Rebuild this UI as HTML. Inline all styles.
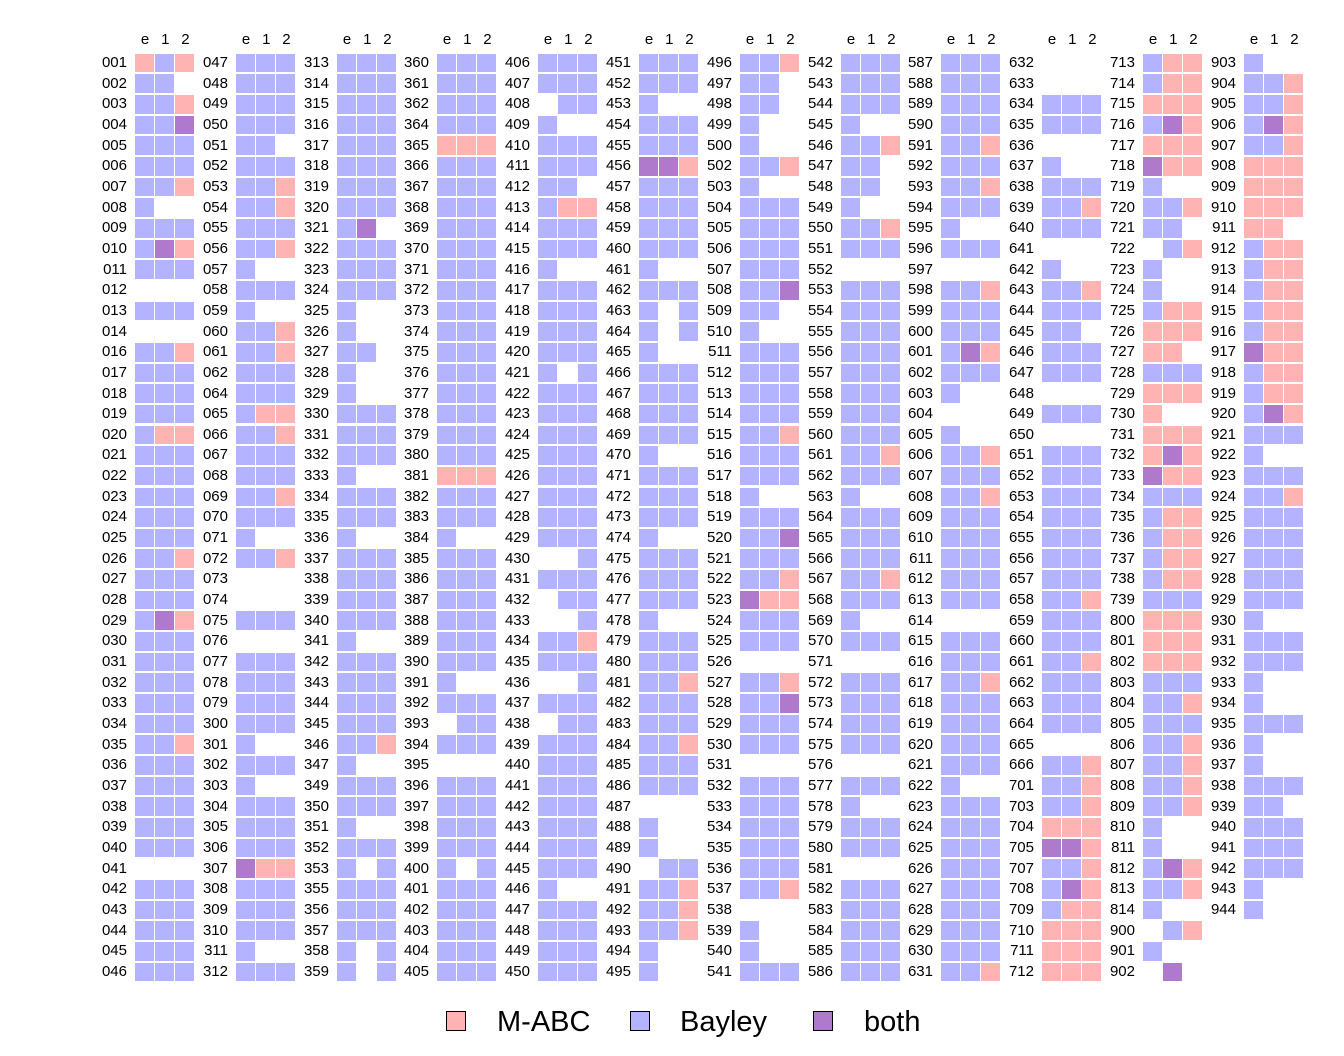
<!DOCTYPE html>
<html><head><meta charset="utf-8"><style>
body{margin:0;width:1344px;height:1056px;background:#fff;font-family:"Liberation Sans",sans-serif;position:relative;overflow:hidden}
.c{position:absolute;top:52.7px}
.c div{height:20.66px;display:flex;align-items:center;position:relative}
.c s{text-decoration:none;width:38px;text-align:right;font-size:15px;margin-right:8px;color:#000;line-height:20px}
.c b{display:block;width:18.5px;height:18.6px;margin-right:1.7px}
.b{background:#b3b3ff}.p{background:#ffb3b3}.m{background:#b07acc}.w{background:transparent}
.h{position:absolute;top:31px;font-size:15px;display:flex}
.h span{width:20.2px;text-align:center}
.lg{position:absolute;top:1011px;width:20px;height:20px;border:1.5px solid #000;box-sizing:border-box}
.lt{position:absolute;top:1006px;font-size:29px}
</style></head><body>
<div class="h" style="left:135px"><span>e</span><span>1</span><span>2</span></div>
<div class="h" style="left:236px"><span>e</span><span>1</span><span>2</span></div>
<div class="h" style="left:337px"><span>e</span><span>1</span><span>2</span></div>
<div class="h" style="left:437px"><span>e</span><span>1</span><span>2</span></div>
<div class="h" style="left:538px"><span>e</span><span>1</span><span>2</span></div>
<div class="h" style="left:639px"><span>e</span><span>1</span><span>2</span></div>
<div class="h" style="left:740px"><span>e</span><span>1</span><span>2</span></div>
<div class="h" style="left:841px"><span>e</span><span>1</span><span>2</span></div>
<div class="h" style="left:941px"><span>e</span><span>1</span><span>2</span></div>
<div class="h" style="left:1042px"><span>e</span><span>1</span><span>2</span></div>
<div class="h" style="left:1143px"><span>e</span><span>1</span><span>2</span></div>
<div class="h" style="left:1244px"><span>e</span><span>1</span><span>2</span></div>

<div class="c" style="left:89px">
<div><s>001</s><b class=p></b><b class=b></b><b class=p></b></div>
<div><s>002</s><b class=b></b><b class=b></b><b class=w></b></div>
<div><s>003</s><b class=b></b><b class=b></b><b class=p></b></div>
<div><s>004</s><b class=b></b><b class=b></b><b class=m></b></div>
<div><s>005</s><b class=b></b><b class=b></b><b class=b></b></div>
<div><s>006</s><b class=b></b><b class=b></b><b class=b></b></div>
<div><s>007</s><b class=b></b><b class=b></b><b class=p></b></div>
<div><s>008</s><b class=b></b><b class=w></b><b class=w></b></div>
<div><s>009</s><b class=b></b><b class=b></b><b class=b></b></div>
<div><s>010</s><b class=b></b><b class=m></b><b class=p></b></div>
<div><s>011</s><b class=b></b><b class=b></b><b class=b></b></div>
<div><s>012</s><b class=w></b><b class=w></b><b class=w></b></div>
<div><s>013</s><b class=b></b><b class=b></b><b class=b></b></div>
<div><s>014</s><b class=w></b><b class=w></b><b class=w></b></div>
<div><s>016</s><b class=b></b><b class=b></b><b class=p></b></div>
<div><s>017</s><b class=b></b><b class=b></b><b class=b></b></div>
<div><s>018</s><b class=b></b><b class=b></b><b class=b></b></div>
<div><s>019</s><b class=b></b><b class=b></b><b class=b></b></div>
<div><s>020</s><b class=b></b><b class=p></b><b class=p></b></div>
<div><s>021</s><b class=b></b><b class=b></b><b class=b></b></div>
<div><s>022</s><b class=b></b><b class=b></b><b class=b></b></div>
<div><s>023</s><b class=b></b><b class=b></b><b class=b></b></div>
<div><s>024</s><b class=b></b><b class=b></b><b class=b></b></div>
<div><s>025</s><b class=b></b><b class=b></b><b class=b></b></div>
<div><s>026</s><b class=b></b><b class=b></b><b class=p></b></div>
<div><s>027</s><b class=b></b><b class=b></b><b class=b></b></div>
<div><s>028</s><b class=b></b><b class=b></b><b class=b></b></div>
<div><s>029</s><b class=b></b><b class=m></b><b class=p></b></div>
<div><s>030</s><b class=b></b><b class=b></b><b class=b></b></div>
<div><s>031</s><b class=b></b><b class=b></b><b class=b></b></div>
<div><s>032</s><b class=b></b><b class=b></b><b class=b></b></div>
<div><s>033</s><b class=b></b><b class=b></b><b class=b></b></div>
<div><s>034</s><b class=b></b><b class=b></b><b class=b></b></div>
<div><s>035</s><b class=b></b><b class=b></b><b class=p></b></div>
<div><s>036</s><b class=b></b><b class=b></b><b class=b></b></div>
<div><s>037</s><b class=b></b><b class=b></b><b class=b></b></div>
<div><s>038</s><b class=b></b><b class=b></b><b class=b></b></div>
<div><s>039</s><b class=b></b><b class=b></b><b class=b></b></div>
<div><s>040</s><b class=b></b><b class=b></b><b class=b></b></div>
<div><s>041</s><b class=w></b><b class=w></b><b class=w></b></div>
<div><s>042</s><b class=b></b><b class=b></b><b class=b></b></div>
<div><s>043</s><b class=b></b><b class=b></b><b class=b></b></div>
<div><s>044</s><b class=b></b><b class=b></b><b class=b></b></div>
<div><s>045</s><b class=b></b><b class=b></b><b class=b></b></div>
<div><s>046</s><b class=b></b><b class=b></b><b class=b></b></div>
</div>

<div class="c" style="left:190px">
<div><s>047</s><b class=b></b><b class=b></b><b class=b></b></div>
<div><s>048</s><b class=b></b><b class=b></b><b class=b></b></div>
<div><s>049</s><b class=b></b><b class=b></b><b class=b></b></div>
<div><s>050</s><b class=b></b><b class=b></b><b class=b></b></div>
<div><s>051</s><b class=b></b><b class=b></b><b class=w></b></div>
<div><s>052</s><b class=b></b><b class=b></b><b class=b></b></div>
<div><s>053</s><b class=b></b><b class=b></b><b class=p></b></div>
<div><s>054</s><b class=b></b><b class=b></b><b class=p></b></div>
<div><s>055</s><b class=b></b><b class=b></b><b class=b></b></div>
<div><s>056</s><b class=b></b><b class=b></b><b class=p></b></div>
<div><s>057</s><b class=b></b><b class=w></b><b class=w></b></div>
<div><s>058</s><b class=b></b><b class=b></b><b class=b></b></div>
<div><s>059</s><b class=b></b><b class=w></b><b class=w></b></div>
<div><s>060</s><b class=b></b><b class=b></b><b class=p></b></div>
<div><s>061</s><b class=b></b><b class=b></b><b class=p></b></div>
<div><s>062</s><b class=b></b><b class=b></b><b class=b></b></div>
<div><s>064</s><b class=b></b><b class=b></b><b class=b></b></div>
<div><s>065</s><b class=b></b><b class=p></b><b class=p></b></div>
<div><s>066</s><b class=b></b><b class=b></b><b class=p></b></div>
<div><s>067</s><b class=b></b><b class=b></b><b class=b></b></div>
<div><s>068</s><b class=b></b><b class=b></b><b class=b></b></div>
<div><s>069</s><b class=b></b><b class=b></b><b class=p></b></div>
<div><s>070</s><b class=b></b><b class=b></b><b class=b></b></div>
<div><s>071</s><b class=b></b><b class=w></b><b class=w></b></div>
<div><s>072</s><b class=b></b><b class=b></b><b class=p></b></div>
<div><s>073</s><b class=w></b><b class=w></b><b class=w></b></div>
<div><s>074</s><b class=w></b><b class=w></b><b class=w></b></div>
<div><s>075</s><b class=b></b><b class=b></b><b class=b></b></div>
<div><s>076</s><b class=w></b><b class=w></b><b class=w></b></div>
<div><s>077</s><b class=b></b><b class=b></b><b class=b></b></div>
<div><s>078</s><b class=b></b><b class=b></b><b class=b></b></div>
<div><s>079</s><b class=b></b><b class=b></b><b class=b></b></div>
<div><s>300</s><b class=b></b><b class=b></b><b class=b></b></div>
<div><s>301</s><b class=b></b><b class=w></b><b class=w></b></div>
<div><s>302</s><b class=b></b><b class=b></b><b class=b></b></div>
<div><s>303</s><b class=b></b><b class=w></b><b class=w></b></div>
<div><s>304</s><b class=b></b><b class=b></b><b class=b></b></div>
<div><s>305</s><b class=b></b><b class=b></b><b class=b></b></div>
<div><s>306</s><b class=b></b><b class=b></b><b class=b></b></div>
<div><s>307</s><b class=m></b><b class=p></b><b class=p></b></div>
<div><s>308</s><b class=b></b><b class=b></b><b class=b></b></div>
<div><s>309</s><b class=b></b><b class=b></b><b class=b></b></div>
<div><s>310</s><b class=b></b><b class=b></b><b class=b></b></div>
<div><s>311</s><b class=b></b><b class=w></b><b class=w></b></div>
<div><s>312</s><b class=b></b><b class=b></b><b class=b></b></div>
</div>

<div class="c" style="left:291px">
<div><s>313</s><b class=b></b><b class=b></b><b class=b></b></div>
<div><s>314</s><b class=b></b><b class=b></b><b class=b></b></div>
<div><s>315</s><b class=b></b><b class=b></b><b class=b></b></div>
<div><s>316</s><b class=b></b><b class=b></b><b class=b></b></div>
<div><s>317</s><b class=b></b><b class=b></b><b class=b></b></div>
<div><s>318</s><b class=b></b><b class=b></b><b class=b></b></div>
<div><s>319</s><b class=b></b><b class=b></b><b class=b></b></div>
<div><s>320</s><b class=b></b><b class=b></b><b class=b></b></div>
<div><s>321</s><b class=b></b><b class=m></b><b class=w></b></div>
<div><s>322</s><b class=b></b><b class=b></b><b class=b></b></div>
<div><s>323</s><b class=b></b><b class=b></b><b class=b></b></div>
<div><s>324</s><b class=b></b><b class=b></b><b class=b></b></div>
<div><s>325</s><b class=b></b><b class=w></b><b class=w></b></div>
<div><s>326</s><b class=b></b><b class=w></b><b class=w></b></div>
<div><s>327</s><b class=b></b><b class=b></b><b class=w></b></div>
<div><s>328</s><b class=b></b><b class=w></b><b class=w></b></div>
<div><s>329</s><b class=b></b><b class=w></b><b class=w></b></div>
<div><s>330</s><b class=b></b><b class=b></b><b class=b></b></div>
<div><s>331</s><b class=b></b><b class=b></b><b class=b></b></div>
<div><s>332</s><b class=b></b><b class=b></b><b class=b></b></div>
<div><s>333</s><b class=b></b><b class=w></b><b class=w></b></div>
<div><s>334</s><b class=b></b><b class=b></b><b class=b></b></div>
<div><s>335</s><b class=b></b><b class=b></b><b class=b></b></div>
<div><s>336</s><b class=b></b><b class=w></b><b class=w></b></div>
<div><s>337</s><b class=b></b><b class=b></b><b class=b></b></div>
<div><s>338</s><b class=b></b><b class=b></b><b class=b></b></div>
<div><s>339</s><b class=b></b><b class=b></b><b class=b></b></div>
<div><s>340</s><b class=b></b><b class=b></b><b class=b></b></div>
<div><s>341</s><b class=b></b><b class=w></b><b class=w></b></div>
<div><s>342</s><b class=b></b><b class=b></b><b class=b></b></div>
<div><s>343</s><b class=b></b><b class=b></b><b class=b></b></div>
<div><s>344</s><b class=b></b><b class=b></b><b class=b></b></div>
<div><s>345</s><b class=b></b><b class=b></b><b class=b></b></div>
<div><s>346</s><b class=b></b><b class=b></b><b class=p></b></div>
<div><s>347</s><b class=b></b><b class=w></b><b class=w></b></div>
<div><s>349</s><b class=b></b><b class=b></b><b class=b></b></div>
<div><s>350</s><b class=b></b><b class=b></b><b class=b></b></div>
<div><s>351</s><b class=b></b><b class=w></b><b class=w></b></div>
<div><s>352</s><b class=b></b><b class=b></b><b class=b></b></div>
<div><s>353</s><b class=b></b><b class=w></b><b class=b></b></div>
<div><s>355</s><b class=b></b><b class=b></b><b class=b></b></div>
<div><s>356</s><b class=b></b><b class=b></b><b class=b></b></div>
<div><s>357</s><b class=b></b><b class=b></b><b class=b></b></div>
<div><s>358</s><b class=b></b><b class=w></b><b class=b></b></div>
<div><s>359</s><b class=b></b><b class=w></b><b class=b></b></div>
</div>

<div class="c" style="left:391px">
<div><s>360</s><b class=b></b><b class=b></b><b class=b></b></div>
<div><s>361</s><b class=b></b><b class=b></b><b class=b></b></div>
<div><s>362</s><b class=b></b><b class=b></b><b class=b></b></div>
<div><s>364</s><b class=b></b><b class=b></b><b class=b></b></div>
<div><s>365</s><b class=p></b><b class=p></b><b class=p></b></div>
<div><s>366</s><b class=b></b><b class=b></b><b class=b></b></div>
<div><s>367</s><b class=b></b><b class=b></b><b class=b></b></div>
<div><s>368</s><b class=b></b><b class=b></b><b class=b></b></div>
<div><s>369</s><b class=b></b><b class=b></b><b class=b></b></div>
<div><s>370</s><b class=b></b><b class=b></b><b class=b></b></div>
<div><s>371</s><b class=b></b><b class=b></b><b class=b></b></div>
<div><s>372</s><b class=b></b><b class=b></b><b class=b></b></div>
<div><s>373</s><b class=b></b><b class=b></b><b class=b></b></div>
<div><s>374</s><b class=b></b><b class=b></b><b class=b></b></div>
<div><s>375</s><b class=b></b><b class=b></b><b class=b></b></div>
<div><s>376</s><b class=b></b><b class=b></b><b class=b></b></div>
<div><s>377</s><b class=b></b><b class=b></b><b class=b></b></div>
<div><s>378</s><b class=b></b><b class=b></b><b class=b></b></div>
<div><s>379</s><b class=b></b><b class=b></b><b class=b></b></div>
<div><s>380</s><b class=b></b><b class=b></b><b class=b></b></div>
<div><s>381</s><b class=p></b><b class=p></b><b class=p></b></div>
<div><s>382</s><b class=b></b><b class=b></b><b class=b></b></div>
<div><s>383</s><b class=b></b><b class=b></b><b class=b></b></div>
<div><s>384</s><b class=b></b><b class=w></b><b class=w></b></div>
<div><s>385</s><b class=b></b><b class=b></b><b class=b></b></div>
<div><s>386</s><b class=b></b><b class=b></b><b class=b></b></div>
<div><s>387</s><b class=b></b><b class=b></b><b class=b></b></div>
<div><s>388</s><b class=b></b><b class=b></b><b class=b></b></div>
<div><s>389</s><b class=b></b><b class=b></b><b class=b></b></div>
<div><s>390</s><b class=b></b><b class=b></b><b class=b></b></div>
<div><s>391</s><b class=b></b><b class=w></b><b class=w></b></div>
<div><s>392</s><b class=b></b><b class=b></b><b class=b></b></div>
<div><s>393</s><b class=w></b><b class=b></b><b class=b></b></div>
<div><s>394</s><b class=b></b><b class=b></b><b class=b></b></div>
<div><s>395</s><b class=w></b><b class=w></b><b class=w></b></div>
<div><s>396</s><b class=b></b><b class=b></b><b class=b></b></div>
<div><s>397</s><b class=b></b><b class=b></b><b class=b></b></div>
<div><s>398</s><b class=b></b><b class=b></b><b class=b></b></div>
<div><s>399</s><b class=b></b><b class=b></b><b class=b></b></div>
<div><s>400</s><b class=b></b><b class=w></b><b class=b></b></div>
<div><s>401</s><b class=b></b><b class=b></b><b class=b></b></div>
<div><s>402</s><b class=b></b><b class=b></b><b class=b></b></div>
<div><s>403</s><b class=b></b><b class=b></b><b class=b></b></div>
<div><s>404</s><b class=b></b><b class=b></b><b class=b></b></div>
<div><s>405</s><b class=b></b><b class=b></b><b class=b></b></div>
</div>

<div class="c" style="left:492px">
<div><s>406</s><b class=b></b><b class=b></b><b class=b></b></div>
<div><s>407</s><b class=b></b><b class=b></b><b class=b></b></div>
<div><s>408</s><b class=w></b><b class=b></b><b class=b></b></div>
<div><s>409</s><b class=b></b><b class=w></b><b class=w></b></div>
<div><s>410</s><b class=b></b><b class=b></b><b class=b></b></div>
<div><s>411</s><b class=b></b><b class=b></b><b class=b></b></div>
<div><s>412</s><b class=b></b><b class=b></b><b class=w></b></div>
<div><s>413</s><b class=b></b><b class=p></b><b class=p></b></div>
<div><s>414</s><b class=b></b><b class=b></b><b class=b></b></div>
<div><s>415</s><b class=b></b><b class=b></b><b class=b></b></div>
<div><s>416</s><b class=b></b><b class=w></b><b class=w></b></div>
<div><s>417</s><b class=b></b><b class=b></b><b class=b></b></div>
<div><s>418</s><b class=b></b><b class=b></b><b class=b></b></div>
<div><s>419</s><b class=b></b><b class=b></b><b class=b></b></div>
<div><s>420</s><b class=b></b><b class=b></b><b class=b></b></div>
<div><s>421</s><b class=b></b><b class=w></b><b class=b></b></div>
<div><s>422</s><b class=b></b><b class=b></b><b class=b></b></div>
<div><s>423</s><b class=b></b><b class=b></b><b class=b></b></div>
<div><s>424</s><b class=b></b><b class=b></b><b class=b></b></div>
<div><s>425</s><b class=b></b><b class=b></b><b class=b></b></div>
<div><s>426</s><b class=b></b><b class=b></b><b class=b></b></div>
<div><s>427</s><b class=b></b><b class=b></b><b class=b></b></div>
<div><s>428</s><b class=b></b><b class=b></b><b class=b></b></div>
<div><s>429</s><b class=b></b><b class=b></b><b class=b></b></div>
<div><s>430</s><b class=w></b><b class=w></b><b class=b></b></div>
<div><s>431</s><b class=b></b><b class=b></b><b class=b></b></div>
<div><s>432</s><b class=w></b><b class=b></b><b class=b></b></div>
<div><s>433</s><b class=w></b><b class=w></b><b class=b></b></div>
<div><s>434</s><b class=b></b><b class=b></b><b class=p></b></div>
<div><s>435</s><b class=b></b><b class=b></b><b class=b></b></div>
<div><s>436</s><b class=w></b><b class=w></b><b class=b></b></div>
<div><s>437</s><b class=b></b><b class=b></b><b class=b></b></div>
<div><s>438</s><b class=w></b><b class=b></b><b class=b></b></div>
<div><s>439</s><b class=b></b><b class=b></b><b class=b></b></div>
<div><s>440</s><b class=b></b><b class=b></b><b class=b></b></div>
<div><s>441</s><b class=b></b><b class=b></b><b class=b></b></div>
<div><s>442</s><b class=b></b><b class=b></b><b class=b></b></div>
<div><s>443</s><b class=b></b><b class=b></b><b class=b></b></div>
<div><s>444</s><b class=b></b><b class=b></b><b class=b></b></div>
<div><s>445</s><b class=b></b><b class=b></b><b class=b></b></div>
<div><s>446</s><b class=b></b><b class=w></b><b class=w></b></div>
<div><s>447</s><b class=b></b><b class=b></b><b class=b></b></div>
<div><s>448</s><b class=b></b><b class=b></b><b class=b></b></div>
<div><s>449</s><b class=b></b><b class=b></b><b class=b></b></div>
<div><s>450</s><b class=b></b><b class=b></b><b class=b></b></div>
</div>

<div class="c" style="left:593px">
<div><s>451</s><b class=b></b><b class=b></b><b class=b></b></div>
<div><s>452</s><b class=b></b><b class=b></b><b class=b></b></div>
<div><s>453</s><b class=b></b><b class=w></b><b class=w></b></div>
<div><s>454</s><b class=b></b><b class=b></b><b class=b></b></div>
<div><s>455</s><b class=b></b><b class=b></b><b class=b></b></div>
<div><s>456</s><b class=m></b><b class=m></b><b class=p></b></div>
<div><s>457</s><b class=b></b><b class=b></b><b class=b></b></div>
<div><s>458</s><b class=b></b><b class=b></b><b class=b></b></div>
<div><s>459</s><b class=b></b><b class=b></b><b class=b></b></div>
<div><s>460</s><b class=b></b><b class=b></b><b class=b></b></div>
<div><s>461</s><b class=b></b><b class=w></b><b class=w></b></div>
<div><s>462</s><b class=b></b><b class=b></b><b class=b></b></div>
<div><s>463</s><b class=b></b><b class=w></b><b class=b></b></div>
<div><s>464</s><b class=b></b><b class=w></b><b class=b></b></div>
<div><s>465</s><b class=b></b><b class=w></b><b class=w></b></div>
<div><s>466</s><b class=b></b><b class=b></b><b class=b></b></div>
<div><s>467</s><b class=b></b><b class=b></b><b class=b></b></div>
<div><s>468</s><b class=b></b><b class=b></b><b class=b></b></div>
<div><s>469</s><b class=b></b><b class=b></b><b class=b></b></div>
<div><s>470</s><b class=b></b><b class=w></b><b class=w></b></div>
<div><s>471</s><b class=b></b><b class=b></b><b class=b></b></div>
<div><s>472</s><b class=b></b><b class=b></b><b class=b></b></div>
<div><s>473</s><b class=b></b><b class=b></b><b class=b></b></div>
<div><s>474</s><b class=b></b><b class=w></b><b class=w></b></div>
<div><s>475</s><b class=b></b><b class=b></b><b class=b></b></div>
<div><s>476</s><b class=b></b><b class=b></b><b class=b></b></div>
<div><s>477</s><b class=b></b><b class=b></b><b class=b></b></div>
<div><s>478</s><b class=b></b><b class=w></b><b class=w></b></div>
<div><s>479</s><b class=b></b><b class=b></b><b class=b></b></div>
<div><s>480</s><b class=b></b><b class=b></b><b class=b></b></div>
<div><s>481</s><b class=b></b><b class=b></b><b class=p></b></div>
<div><s>482</s><b class=b></b><b class=b></b><b class=b></b></div>
<div><s>483</s><b class=b></b><b class=b></b><b class=b></b></div>
<div><s>484</s><b class=b></b><b class=b></b><b class=p></b></div>
<div><s>485</s><b class=b></b><b class=b></b><b class=b></b></div>
<div><s>486</s><b class=b></b><b class=b></b><b class=b></b></div>
<div><s>487</s><b class=w></b><b class=w></b><b class=w></b></div>
<div><s>488</s><b class=b></b><b class=w></b><b class=w></b></div>
<div><s>489</s><b class=b></b><b class=w></b><b class=w></b></div>
<div><s>490</s><b class=w></b><b class=b></b><b class=b></b></div>
<div><s>491</s><b class=b></b><b class=b></b><b class=p></b></div>
<div><s>492</s><b class=b></b><b class=b></b><b class=p></b></div>
<div><s>493</s><b class=b></b><b class=b></b><b class=p></b></div>
<div><s>494</s><b class=b></b><b class=w></b><b class=w></b></div>
<div><s>495</s><b class=b></b><b class=w></b><b class=w></b></div>
</div>

<div class="c" style="left:694px">
<div><s>496</s><b class=b></b><b class=b></b><b class=p></b></div>
<div><s>497</s><b class=b></b><b class=b></b><b class=w></b></div>
<div><s>498</s><b class=b></b><b class=b></b><b class=w></b></div>
<div><s>499</s><b class=b></b><b class=w></b><b class=w></b></div>
<div><s>500</s><b class=b></b><b class=w></b><b class=w></b></div>
<div><s>502</s><b class=b></b><b class=b></b><b class=p></b></div>
<div><s>503</s><b class=b></b><b class=w></b><b class=w></b></div>
<div><s>504</s><b class=b></b><b class=b></b><b class=b></b></div>
<div><s>505</s><b class=b></b><b class=b></b><b class=b></b></div>
<div><s>506</s><b class=b></b><b class=b></b><b class=b></b></div>
<div><s>507</s><b class=b></b><b class=b></b><b class=b></b></div>
<div><s>508</s><b class=b></b><b class=b></b><b class=m></b></div>
<div><s>509</s><b class=b></b><b class=b></b><b class=w></b></div>
<div><s>510</s><b class=b></b><b class=w></b><b class=w></b></div>
<div><s>511</s><b class=b></b><b class=b></b><b class=b></b></div>
<div><s>512</s><b class=b></b><b class=b></b><b class=b></b></div>
<div><s>513</s><b class=b></b><b class=b></b><b class=b></b></div>
<div><s>514</s><b class=b></b><b class=b></b><b class=b></b></div>
<div><s>515</s><b class=b></b><b class=b></b><b class=p></b></div>
<div><s>516</s><b class=b></b><b class=b></b><b class=b></b></div>
<div><s>517</s><b class=b></b><b class=b></b><b class=b></b></div>
<div><s>518</s><b class=b></b><b class=w></b><b class=w></b></div>
<div><s>519</s><b class=b></b><b class=b></b><b class=b></b></div>
<div><s>520</s><b class=b></b><b class=b></b><b class=m></b></div>
<div><s>521</s><b class=b></b><b class=b></b><b class=b></b></div>
<div><s>522</s><b class=b></b><b class=b></b><b class=p></b></div>
<div><s>523</s><b class=m></b><b class=p></b><b class=p></b></div>
<div><s>524</s><b class=b></b><b class=b></b><b class=b></b></div>
<div><s>525</s><b class=b></b><b class=b></b><b class=b></b></div>
<div><s>526</s><b class=w></b><b class=w></b><b class=w></b></div>
<div><s>527</s><b class=b></b><b class=b></b><b class=p></b></div>
<div><s>528</s><b class=b></b><b class=b></b><b class=m></b></div>
<div><s>529</s><b class=b></b><b class=b></b><b class=b></b></div>
<div><s>530</s><b class=b></b><b class=b></b><b class=b></b></div>
<div><s>531</s><b class=w></b><b class=w></b><b class=w></b></div>
<div><s>532</s><b class=b></b><b class=b></b><b class=b></b></div>
<div><s>533</s><b class=b></b><b class=b></b><b class=b></b></div>
<div><s>534</s><b class=b></b><b class=b></b><b class=b></b></div>
<div><s>535</s><b class=b></b><b class=b></b><b class=b></b></div>
<div><s>536</s><b class=b></b><b class=b></b><b class=b></b></div>
<div><s>537</s><b class=b></b><b class=b></b><b class=p></b></div>
<div><s>538</s><b class=w></b><b class=w></b><b class=w></b></div>
<div><s>539</s><b class=b></b><b class=w></b><b class=w></b></div>
<div><s>540</s><b class=b></b><b class=w></b><b class=w></b></div>
<div><s>541</s><b class=b></b><b class=b></b><b class=b></b></div>
</div>

<div class="c" style="left:795px">
<div><s>542</s><b class=b></b><b class=b></b><b class=b></b></div>
<div><s>543</s><b class=b></b><b class=b></b><b class=b></b></div>
<div><s>544</s><b class=b></b><b class=b></b><b class=b></b></div>
<div><s>545</s><b class=b></b><b class=w></b><b class=w></b></div>
<div><s>546</s><b class=b></b><b class=b></b><b class=p></b></div>
<div><s>547</s><b class=b></b><b class=b></b><b class=w></b></div>
<div><s>548</s><b class=b></b><b class=b></b><b class=w></b></div>
<div><s>549</s><b class=b></b><b class=w></b><b class=w></b></div>
<div><s>550</s><b class=b></b><b class=b></b><b class=p></b></div>
<div><s>551</s><b class=b></b><b class=b></b><b class=b></b></div>
<div><s>552</s><b class=w></b><b class=w></b><b class=w></b></div>
<div><s>553</s><b class=b></b><b class=b></b><b class=b></b></div>
<div><s>554</s><b class=b></b><b class=b></b><b class=b></b></div>
<div><s>555</s><b class=b></b><b class=b></b><b class=b></b></div>
<div><s>556</s><b class=b></b><b class=b></b><b class=b></b></div>
<div><s>557</s><b class=b></b><b class=b></b><b class=b></b></div>
<div><s>558</s><b class=b></b><b class=b></b><b class=b></b></div>
<div><s>559</s><b class=b></b><b class=b></b><b class=b></b></div>
<div><s>560</s><b class=b></b><b class=b></b><b class=b></b></div>
<div><s>561</s><b class=b></b><b class=b></b><b class=p></b></div>
<div><s>562</s><b class=b></b><b class=b></b><b class=b></b></div>
<div><s>563</s><b class=b></b><b class=w></b><b class=w></b></div>
<div><s>564</s><b class=b></b><b class=b></b><b class=b></b></div>
<div><s>565</s><b class=b></b><b class=b></b><b class=b></b></div>
<div><s>566</s><b class=b></b><b class=b></b><b class=b></b></div>
<div><s>567</s><b class=b></b><b class=b></b><b class=p></b></div>
<div><s>568</s><b class=b></b><b class=b></b><b class=b></b></div>
<div><s>569</s><b class=b></b><b class=w></b><b class=w></b></div>
<div><s>570</s><b class=b></b><b class=b></b><b class=b></b></div>
<div><s>571</s><b class=w></b><b class=w></b><b class=w></b></div>
<div><s>572</s><b class=b></b><b class=b></b><b class=b></b></div>
<div><s>573</s><b class=b></b><b class=b></b><b class=b></b></div>
<div><s>574</s><b class=b></b><b class=b></b><b class=b></b></div>
<div><s>575</s><b class=b></b><b class=b></b><b class=b></b></div>
<div><s>576</s><b class=w></b><b class=w></b><b class=w></b></div>
<div><s>577</s><b class=b></b><b class=b></b><b class=b></b></div>
<div><s>578</s><b class=b></b><b class=w></b><b class=w></b></div>
<div><s>579</s><b class=b></b><b class=b></b><b class=b></b></div>
<div><s>580</s><b class=b></b><b class=b></b><b class=b></b></div>
<div><s>581</s><b class=w></b><b class=w></b><b class=w></b></div>
<div><s>582</s><b class=b></b><b class=b></b><b class=b></b></div>
<div><s>583</s><b class=b></b><b class=b></b><b class=b></b></div>
<div><s>584</s><b class=b></b><b class=b></b><b class=b></b></div>
<div><s>585</s><b class=b></b><b class=b></b><b class=b></b></div>
<div><s>586</s><b class=b></b><b class=b></b><b class=b></b></div>
</div>

<div class="c" style="left:895px">
<div><s>587</s><b class=b></b><b class=b></b><b class=b></b></div>
<div><s>588</s><b class=b></b><b class=b></b><b class=b></b></div>
<div><s>589</s><b class=b></b><b class=b></b><b class=b></b></div>
<div><s>590</s><b class=b></b><b class=b></b><b class=b></b></div>
<div><s>591</s><b class=b></b><b class=b></b><b class=p></b></div>
<div><s>592</s><b class=b></b><b class=b></b><b class=b></b></div>
<div><s>593</s><b class=b></b><b class=b></b><b class=p></b></div>
<div><s>594</s><b class=b></b><b class=b></b><b class=b></b></div>
<div><s>595</s><b class=b></b><b class=w></b><b class=w></b></div>
<div><s>596</s><b class=b></b><b class=b></b><b class=b></b></div>
<div><s>597</s><b class=w></b><b class=w></b><b class=w></b></div>
<div><s>598</s><b class=b></b><b class=b></b><b class=p></b></div>
<div><s>599</s><b class=b></b><b class=b></b><b class=b></b></div>
<div><s>600</s><b class=b></b><b class=b></b><b class=b></b></div>
<div><s>601</s><b class=b></b><b class=m></b><b class=p></b></div>
<div><s>602</s><b class=b></b><b class=b></b><b class=b></b></div>
<div><s>603</s><b class=b></b><b class=w></b><b class=w></b></div>
<div><s>604</s><b class=w></b><b class=w></b><b class=w></b></div>
<div><s>605</s><b class=b></b><b class=w></b><b class=w></b></div>
<div><s>606</s><b class=b></b><b class=b></b><b class=p></b></div>
<div><s>607</s><b class=b></b><b class=b></b><b class=b></b></div>
<div><s>608</s><b class=b></b><b class=b></b><b class=p></b></div>
<div><s>609</s><b class=b></b><b class=b></b><b class=b></b></div>
<div><s>610</s><b class=b></b><b class=b></b><b class=b></b></div>
<div><s>611</s><b class=b></b><b class=b></b><b class=b></b></div>
<div><s>612</s><b class=b></b><b class=b></b><b class=b></b></div>
<div><s>613</s><b class=b></b><b class=b></b><b class=b></b></div>
<div><s>614</s><b class=w></b><b class=w></b><b class=w></b></div>
<div><s>615</s><b class=b></b><b class=b></b><b class=b></b></div>
<div><s>616</s><b class=b></b><b class=b></b><b class=b></b></div>
<div><s>617</s><b class=b></b><b class=b></b><b class=p></b></div>
<div><s>618</s><b class=b></b><b class=b></b><b class=b></b></div>
<div><s>619</s><b class=b></b><b class=b></b><b class=b></b></div>
<div><s>620</s><b class=b></b><b class=b></b><b class=b></b></div>
<div><s>621</s><b class=b></b><b class=b></b><b class=b></b></div>
<div><s>622</s><b class=b></b><b class=w></b><b class=w></b></div>
<div><s>623</s><b class=b></b><b class=b></b><b class=b></b></div>
<div><s>624</s><b class=b></b><b class=b></b><b class=b></b></div>
<div><s>625</s><b class=b></b><b class=b></b><b class=b></b></div>
<div><s>626</s><b class=b></b><b class=b></b><b class=b></b></div>
<div><s>627</s><b class=b></b><b class=b></b><b class=b></b></div>
<div><s>628</s><b class=b></b><b class=b></b><b class=b></b></div>
<div><s>629</s><b class=b></b><b class=b></b><b class=b></b></div>
<div><s>630</s><b class=b></b><b class=b></b><b class=b></b></div>
<div><s>631</s><b class=b></b><b class=b></b><b class=p></b></div>
</div>

<div class="c" style="left:996px">
<div><s>632</s><b class=w></b><b class=w></b><b class=w></b></div>
<div><s>633</s><b class=w></b><b class=w></b><b class=w></b></div>
<div><s>634</s><b class=b></b><b class=b></b><b class=b></b></div>
<div><s>635</s><b class=b></b><b class=b></b><b class=b></b></div>
<div><s>636</s><b class=w></b><b class=w></b><b class=w></b></div>
<div><s>637</s><b class=b></b><b class=w></b><b class=w></b></div>
<div><s>638</s><b class=b></b><b class=b></b><b class=b></b></div>
<div><s>639</s><b class=b></b><b class=b></b><b class=p></b></div>
<div><s>640</s><b class=b></b><b class=b></b><b class=b></b></div>
<div><s>641</s><b class=w></b><b class=w></b><b class=w></b></div>
<div><s>642</s><b class=b></b><b class=w></b><b class=w></b></div>
<div><s>643</s><b class=b></b><b class=b></b><b class=p></b></div>
<div><s>644</s><b class=b></b><b class=b></b><b class=b></b></div>
<div><s>645</s><b class=b></b><b class=b></b><b class=w></b></div>
<div><s>646</s><b class=b></b><b class=b></b><b class=b></b></div>
<div><s>647</s><b class=b></b><b class=b></b><b class=b></b></div>
<div><s>648</s><b class=w></b><b class=w></b><b class=w></b></div>
<div><s>649</s><b class=b></b><b class=b></b><b class=b></b></div>
<div><s>650</s><b class=w></b><b class=w></b><b class=w></b></div>
<div><s>651</s><b class=b></b><b class=b></b><b class=b></b></div>
<div><s>652</s><b class=b></b><b class=b></b><b class=b></b></div>
<div><s>653</s><b class=b></b><b class=b></b><b class=b></b></div>
<div><s>654</s><b class=b></b><b class=b></b><b class=b></b></div>
<div><s>655</s><b class=b></b><b class=b></b><b class=b></b></div>
<div><s>656</s><b class=b></b><b class=b></b><b class=b></b></div>
<div><s>657</s><b class=b></b><b class=b></b><b class=b></b></div>
<div><s>658</s><b class=b></b><b class=b></b><b class=p></b></div>
<div><s>659</s><b class=b></b><b class=b></b><b class=b></b></div>
<div><s>660</s><b class=b></b><b class=b></b><b class=b></b></div>
<div><s>661</s><b class=b></b><b class=b></b><b class=p></b></div>
<div><s>662</s><b class=b></b><b class=b></b><b class=b></b></div>
<div><s>663</s><b class=b></b><b class=b></b><b class=b></b></div>
<div><s>664</s><b class=b></b><b class=b></b><b class=b></b></div>
<div><s>665</s><b class=w></b><b class=w></b><b class=w></b></div>
<div><s>666</s><b class=b></b><b class=b></b><b class=p></b></div>
<div><s>701</s><b class=b></b><b class=b></b><b class=p></b></div>
<div><s>703</s><b class=b></b><b class=b></b><b class=p></b></div>
<div><s>704</s><b class=p></b><b class=p></b><b class=p></b></div>
<div><s>705</s><b class=m></b><b class=m></b><b class=p></b></div>
<div><s>707</s><b class=b></b><b class=b></b><b class=p></b></div>
<div><s>708</s><b class=b></b><b class=m></b><b class=p></b></div>
<div><s>709</s><b class=b></b><b class=p></b><b class=p></b></div>
<div><s>710</s><b class=p></b><b class=p></b><b class=p></b></div>
<div><s>711</s><b class=p></b><b class=p></b><b class=p></b></div>
<div><s>712</s><b class=p></b><b class=p></b><b class=p></b></div>
</div>

<div class="c" style="left:1097px">
<div><s>713</s><b class=b></b><b class=p></b><b class=p></b></div>
<div><s>714</s><b class=b></b><b class=p></b><b class=p></b></div>
<div><s>715</s><b class=p></b><b class=p></b><b class=p></b></div>
<div><s>716</s><b class=b></b><b class=m></b><b class=p></b></div>
<div><s>717</s><b class=p></b><b class=p></b><b class=p></b></div>
<div><s>718</s><b class=m></b><b class=p></b><b class=p></b></div>
<div><s>719</s><b class=b></b><b class=w></b><b class=w></b></div>
<div><s>720</s><b class=b></b><b class=b></b><b class=p></b></div>
<div><s>721</s><b class=b></b><b class=b></b><b class=w></b></div>
<div><s>722</s><b class=w></b><b class=b></b><b class=p></b></div>
<div><s>723</s><b class=b></b><b class=w></b><b class=w></b></div>
<div><s>724</s><b class=b></b><b class=w></b><b class=w></b></div>
<div><s>725</s><b class=b></b><b class=p></b><b class=p></b></div>
<div><s>726</s><b class=p></b><b class=p></b><b class=p></b></div>
<div><s>727</s><b class=p></b><b class=p></b><b class=w></b></div>
<div><s>728</s><b class=b></b><b class=b></b><b class=b></b></div>
<div><s>729</s><b class=p></b><b class=p></b><b class=p></b></div>
<div><s>730</s><b class=p></b><b class=w></b><b class=w></b></div>
<div><s>731</s><b class=p></b><b class=p></b><b class=p></b></div>
<div><s>732</s><b class=p></b><b class=m></b><b class=p></b></div>
<div><s>733</s><b class=m></b><b class=p></b><b class=p></b></div>
<div><s>734</s><b class=b></b><b class=b></b><b class=b></b></div>
<div><s>735</s><b class=b></b><b class=p></b><b class=p></b></div>
<div><s>736</s><b class=b></b><b class=p></b><b class=p></b></div>
<div><s>737</s><b class=b></b><b class=p></b><b class=p></b></div>
<div><s>738</s><b class=b></b><b class=p></b><b class=p></b></div>
<div><s>739</s><b class=b></b><b class=b></b><b class=b></b></div>
<div><s>800</s><b class=p></b><b class=p></b><b class=p></b></div>
<div><s>801</s><b class=p></b><b class=p></b><b class=p></b></div>
<div><s>802</s><b class=p></b><b class=p></b><b class=p></b></div>
<div><s>803</s><b class=b></b><b class=b></b><b class=b></b></div>
<div><s>804</s><b class=b></b><b class=b></b><b class=p></b></div>
<div><s>805</s><b class=b></b><b class=b></b><b class=b></b></div>
<div><s>806</s><b class=b></b><b class=b></b><b class=p></b></div>
<div><s>807</s><b class=b></b><b class=b></b><b class=p></b></div>
<div><s>808</s><b class=b></b><b class=b></b><b class=p></b></div>
<div><s>809</s><b class=b></b><b class=b></b><b class=p></b></div>
<div><s>810</s><b class=b></b><b class=w></b><b class=w></b></div>
<div><s>811</s><b class=b></b><b class=w></b><b class=w></b></div>
<div><s>812</s><b class=b></b><b class=m></b><b class=p></b></div>
<div><s>813</s><b class=b></b><b class=b></b><b class=p></b></div>
<div><s>814</s><b class=b></b><b class=w></b><b class=w></b></div>
<div><s>900</s><b class=w></b><b class=b></b><b class=p></b></div>
<div><s>901</s><b class=b></b><b class=w></b><b class=w></b></div>
<div><s>902</s><b class=w></b><b class=m></b><b class=w></b></div>
</div>

<div class="c" style="left:1198px">
<div><s>903</s><b class=b></b><b class=w></b><b class=w></b></div>
<div><s>904</s><b class=b></b><b class=b></b><b class=p></b></div>
<div><s>905</s><b class=b></b><b class=b></b><b class=p></b></div>
<div><s>906</s><b class=b></b><b class=m></b><b class=p></b></div>
<div><s>907</s><b class=b></b><b class=b></b><b class=p></b></div>
<div><s>908</s><b class=p></b><b class=p></b><b class=p></b></div>
<div><s>909</s><b class=p></b><b class=p></b><b class=p></b></div>
<div><s>910</s><b class=p></b><b class=p></b><b class=p></b></div>
<div><s>911</s><b class=p></b><b class=p></b><b class=w></b></div>
<div><s>912</s><b class=b></b><b class=p></b><b class=p></b></div>
<div><s>913</s><b class=b></b><b class=p></b><b class=p></b></div>
<div><s>914</s><b class=b></b><b class=p></b><b class=p></b></div>
<div><s>915</s><b class=b></b><b class=p></b><b class=p></b></div>
<div><s>916</s><b class=b></b><b class=p></b><b class=p></b></div>
<div><s>917</s><b class=m></b><b class=p></b><b class=p></b></div>
<div><s>918</s><b class=b></b><b class=p></b><b class=p></b></div>
<div><s>919</s><b class=b></b><b class=p></b><b class=p></b></div>
<div><s>920</s><b class=b></b><b class=m></b><b class=p></b></div>
<div><s>921</s><b class=b></b><b class=b></b><b class=b></b></div>
<div><s>922</s><b class=b></b><b class=w></b><b class=w></b></div>
<div><s>923</s><b class=b></b><b class=b></b><b class=b></b></div>
<div><s>924</s><b class=b></b><b class=b></b><b class=p></b></div>
<div><s>925</s><b class=b></b><b class=b></b><b class=b></b></div>
<div><s>926</s><b class=b></b><b class=b></b><b class=b></b></div>
<div><s>927</s><b class=b></b><b class=b></b><b class=b></b></div>
<div><s>928</s><b class=b></b><b class=b></b><b class=b></b></div>
<div><s>929</s><b class=b></b><b class=b></b><b class=b></b></div>
<div><s>930</s><b class=b></b><b class=w></b><b class=w></b></div>
<div><s>931</s><b class=b></b><b class=b></b><b class=b></b></div>
<div><s>932</s><b class=b></b><b class=b></b><b class=b></b></div>
<div><s>933</s><b class=b></b><b class=w></b><b class=w></b></div>
<div><s>934</s><b class=b></b><b class=w></b><b class=w></b></div>
<div><s>935</s><b class=b></b><b class=b></b><b class=b></b></div>
<div><s>936</s><b class=b></b><b class=w></b><b class=w></b></div>
<div><s>937</s><b class=b></b><b class=w></b><b class=w></b></div>
<div><s>938</s><b class=b></b><b class=b></b><b class=b></b></div>
<div><s>939</s><b class=b></b><b class=b></b><b class=w></b></div>
<div><s>940</s><b class=b></b><b class=b></b><b class=b></b></div>
<div><s>941</s><b class=b></b><b class=b></b><b class=b></b></div>
<div><s>942</s><b class=b></b><b class=b></b><b class=b></b></div>
<div><s>943</s><b class=b></b><b class=w></b><b class=w></b></div>
<div><s>944</s><b class=b></b><b class=w></b><b class=w></b></div>
</div>

<div class="lg" style="left:446px;background:#ffb3b3"></div>
<div class="lt" style="left:497px">M-ABC</div>
<div class="lg" style="left:630px;background:#b3b3ff"></div>
<div class="lt" style="left:680px">Bayley</div>
<div class="lg" style="left:813px;background:#b07acc"></div>
<div class="lt" style="left:864px">both</div>
</body></html>
